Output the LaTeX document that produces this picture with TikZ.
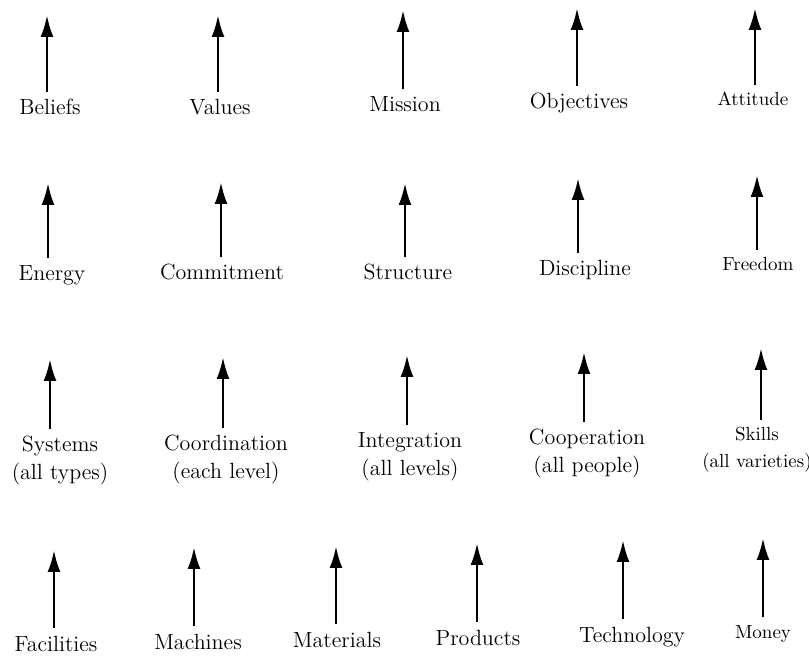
\documentclass[tikz,border=0pt]{standalone}
\usetikzlibrary{arrows.meta}
\begin{document}
\begin{tikzpicture}[
        x=0.5pt, y=-0.5pt,
        word/.style={inner sep=0pt, anchor=north, align=center, font=\fontsize{11}{14}\selectfont},
        wordsmall/.style={word, font=\fontsize{9.5}{13.5}\selectfont},
        arrow/.style={-{Latex[length=11pt, width=6.5pt]}, line width=1.4pt}
    ]
    \useasboundingbox (0,0) rectangle (809,656);
    % Row 1
    \node[word] (beliefs) at (50, 99) {Beliefs};
    \node[word] (values) at (220, 99) {Values};
    \node[word] (mission) at (405, 96) {Mission};
    \node[word] (objectives) at (579, 93) {Objectives};
    \node[wordsmall] (attitude) at (753, 92) {Attitude};
    \coordinate (beliefs-t) at (47, 15);
    \coordinate (values-t) at (218, 15);
    \coordinate (mission-t) at (403, 10);
    \coordinate (objectives-t) at (577, 8);
    \coordinate (attitude-t) at (755, 8);
    % Row 2
    \node[word] (energy) at (52, 265) {Energy};
    \node[word] (commitment) at (222, 264) {Commitment};
    \node[word] (structure) at (408, 264) {Structure};
    \node[word] (discipline) at (585, 260) {Discipline};
    \node[wordsmall] (freedom) at (758, 257) {Freedom};
    \coordinate (energy-t) at (48, 183);
    \coordinate (commitment-t) at (221, 182);
    \coordinate (structure-t) at (405, 183);
    \coordinate (discipline-t) at (578, 178);
    \coordinate (freedom-t) at (757, 175);
    % Row 3
    \node[word] (systems) at (60, 436) {Systems\\(all types)};
    \node[word] (coordination) at (226, 435) {Coordination\\(each level)};
    \node[word] (integration) at (410, 432) {Integration\\(all levels)};
    \node[word] (cooperation) at (587, 429) {Cooperation\\(all people)};
    \node[wordsmall] (skills) at (757, 427) {Skills\\(all varieties)};
    \coordinate (systems-t) at (50, 359);
    \coordinate (coordination-t) at (223, 357);
    \coordinate (integration-t) at (407, 355);
    \coordinate (cooperation-t) at (584, 352);
    \coordinate (skills-t) at (761, 348);
    % Row 4
    \node[word] (facilities) at (56, 636) {Facilities};
    \node[word] (machines) at (198, 634) {Machines};
    \node[word] (materials) at (337, 632) {Materials};
    \node[word] (products) at (478, 630) {Products};
    \node[word] (technology) at (632, 627) {Technology};
    \node[wordsmall] (money) at (763, 625) {Money};
    \coordinate (facilities-t) at (54, 550);
    \coordinate (machines-t) at (194, 547);
    \coordinate (materials-t) at (336, 546);
    \coordinate (products-t) at (477, 543);
    \coordinate (technology-t) at (623, 540);
    \coordinate (money-t) at (763, 538);
    % Arrows
    \draw[arrow] (beliefs.north -| beliefs-t) ++(0,-7) -- (beliefs-t);
    \draw[arrow] (values.north -| values-t) ++(0,-7) -- (values-t);
    \draw[arrow] (mission.north -| mission-t) ++(0,-7) -- (mission-t);
    \draw[arrow] (objectives.north -| objectives-t) ++(0,-7) -- (objectives-t);
    \draw[arrow] (attitude.north -| attitude-t) ++(0,-7) -- (attitude-t);
    \draw[arrow] (energy.north -| energy-t) ++(0,-7) -- (energy-t);
    \draw[arrow] (commitment.north -| commitment-t) ++(0,-7) -- (commitment-t);
    \draw[arrow] (structure.north -| structure-t) ++(0,-7) -- (structure-t);
    \draw[arrow] (discipline.north -| discipline-t) ++(0,-7) -- (discipline-t);
    \draw[arrow] (freedom.north -| freedom-t) ++(0,-7) -- (freedom-t);
    \draw[arrow] (systems.north -| systems-t) ++(0,-7) -- (systems-t);
    \draw[arrow] (coordination.north -| coordination-t) ++(0,-7) -- (coordination-t);
    \draw[arrow] (integration.north -| integration-t) ++(0,-7) -- (integration-t);
    \draw[arrow] (cooperation.north -| cooperation-t) ++(0,-7) -- (cooperation-t);
    \draw[arrow] (skills.north -| skills-t) ++(0,-7) -- (skills-t);
    \draw[arrow] (facilities.north -| facilities-t) ++(0,-8) -- (facilities-t);
    \draw[arrow] (machines.north -| machines-t) ++(0,-8) -- (machines-t);
    \draw[arrow] (materials.north -| materials-t) ++(0,-8) -- (materials-t);
    \draw[arrow] (products.north -| products-t) ++(0,-8) -- (products-t);
    \draw[arrow] (technology.north -| technology-t) ++(0,-8) -- (technology-t);
    \draw[arrow] (money.north -| money-t) ++(0,-8) -- (money-t);
\end{tikzpicture}
\end{document}
